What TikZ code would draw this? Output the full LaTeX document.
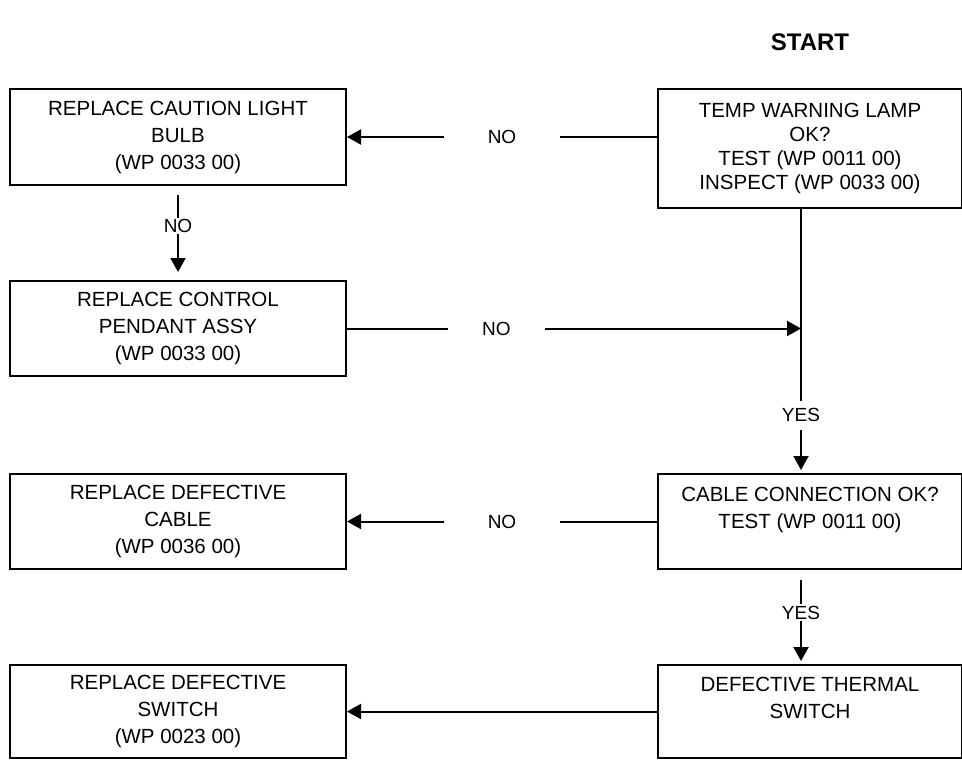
\documentclass[tikz,border=0pt]{standalone}
\usepackage{fontspec}
\setmainfont{Liberation Sans}
\usetikzlibrary{arrows.meta}
\begin{document}
\begin{tikzpicture}[x=1pt,y=-1pt,
  box/.style={draw, line width=2pt, rectangle, inner sep=0pt, anchor=north west,
    align=center, font=\fontsize{20.5}{27}\selectfont},
  leftbox/.style={box, minimum width=336pt},
  rightbox/.style={box, minimum width=304pt},
  conn/.style={line width=2pt, -{Triangle[length=14pt,width=15pt]}},
  lbl/.style={fill=white, inner sep=0pt, font=\fontsize{19}{21}\selectfont},
  title/.style={font=\fontsize{24}{28}\selectfont\bfseries}]
\useasboundingbox (0,0) rectangle (962,761);

% heading
\node[title] (start) at (810,42) {START};

% left column: remedies
\node[leftbox, minimum height=96pt] (l1) at (9,88) {REPLACE CAUTION LIGHT\\BULB\\(WP 0033 00)};
\node[leftbox, minimum height=95pt] (l2) at (9,280) {REPLACE CONTROL\\PENDANT ASSY\\(WP 0033 00)};
\node[leftbox, minimum height=95pt] (l3) at (9,473) {REPLACE DEFECTIVE\\CABLE\\(WP 0036 00)};
\node[leftbox, minimum height=93pt] (l4) at (9,664) {REPLACE DEFECTIVE\\SWITCH\\(WP 0023 00)};

% right column: checks
\node[rightbox, minimum height=119pt, font=\fontsize{20.5}{24}\selectfont] (r1) at (657,88) {TEMP WARNING LAMP\\OK?\\TEST (WP 0011 00)\\INSPECT (WP 0033 00)};
\node[rightbox, minimum height=95pt] (r2) at (657,473) {CABLE CONNECTION OK?\\TEST (WP 0011 00)\\\mbox{}};
\node[rightbox, minimum height=93pt] (r3) at (657,664) {DEFECTIVE THERMAL\\SWITCH\\\mbox{}};

% vertical trunk on the right
\coordinate (spine) at (801,0);

% connectors
\draw[conn] (r1.west |- l1.east) -- node[lbl, minimum width=116pt, minimum height=12pt] {NO} (l1.east);
\draw[conn, shorten <=9pt, shorten >=8pt] (l1.south) -- node[lbl, pos=0.43, minimum height=16pt, inner xsep=1pt] {NO} (l2.north);
\draw[conn] (l2.east) -- node[lbl, pos=0.329, minimum width=97pt, minimum height=12pt] {NO} (l2.east -| spine);
\draw[conn, shorten >=3pt] (r1.south -| spine) -- node[lbl, pos=0.782, minimum height=29pt, inner xsep=1pt] {YES} (r2.north -| spine);
\draw[conn] (r2.west |- l3.east) -- node[lbl, minimum width=116pt, minimum height=12pt] {NO} (l3.east);
\draw[conn, shorten <=10pt, shorten >=3pt] (r2.south -| spine) -- node[lbl, pos=0.453, minimum height=17pt, inner xsep=1pt] {YES} (r3.north -| spine);
\draw[conn] (r3.west |- l4.east) -- (l4.east);
\end{tikzpicture}
\end{document}
